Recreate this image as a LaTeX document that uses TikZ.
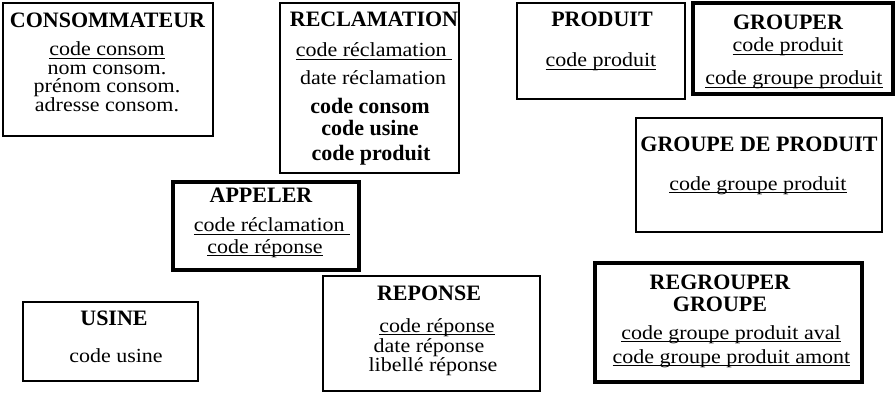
\documentclass[tikz,border=0pt]{standalone}
\usepackage{fontspec}
\setmainfont{Liberation Serif}
\newfontfamily\attfont{Liberation Serif}[FakeStretch=1.1]
\newcommand{\souligne}[1]{\setbox0\hbox{#1}\rlap{\rule[-3pt]{\wd0}{0.9pt}}\box0}

\begin{document}
\begin{tikzpicture}[x=1pt, y=-1pt, every node/.style={inner sep=0pt},
  ent/.style={draw, line width=1.6pt, outer sep=0pt},
  rel/.style={ent, line width=4pt},
  ttl/.style={anchor=base, font=\fontsize{22}{24}\selectfont\bfseries},
  att/.style={anchor=base, font=\attfont\fontsize{20}{22}\selectfont}]
\useasboundingbox (0,0) rectangle (895,393);
% entites et associations
\node[ent, minimum width=210pt, minimum height=133pt] (consommateur) at (108,69.5) {};
\node[ent, minimum width=179pt, minimum height=170pt] (reclamation) at (369.5,88) {};
\node[ent, minimum width=168pt, minimum height=96pt] (produit) at (601,51) {};
\node[rel, minimum width=200pt, minimum height=91pt] (grouper) at (793,48.5) {};
\node[ent, minimum width=246pt, minimum height=114pt] (groupe) at (759,175) {};
\node[rel, minimum width=186pt, minimum height=88pt] (appeler) at (266,226) {};
\node[ent, minimum width=175pt, minimum height=79pt] (usine) at (110.5,341.5) {};
\node[ent, minimum width=217pt, minimum height=115pt] (reponse) at (431.5,333.5) {};
\node[rel, minimum width=267pt, minimum height=119pt] (regrouper) at (728.5,322.5) {};
% textes
\node[ttl] (consommateur-t) at (107.5,28) {CONSOMMATEUR};
\node[att] (consommateur-1) at (107,56) {\souligne{code consom}};
\node[att] (consommateur-2) at (107,74.5) {nom consom.};
\node[att] (consommateur-3) at (107,93) {prénom consom.};
\node[att] (consommateur-4) at (107,111.5) {adresse consom.};
\node[ttl] (reclamation-t) at (374,27) {RECLAMATION};
\node[att] (reclamation-1) at (374,57) {\souligne{code réclamation\ }};
\node[att] (reclamation-2) at (373,85) {date réclamation};
\node[ttl] (reclamation-3) at (370,114) {code consom};
\node[ttl] (reclamation-4) at (370,136) {code usine};
\node[ttl] (reclamation-5) at (371,161) {code produit};
\node[ttl] (produit-t) at (602,27) {PRODUIT};
\node[att] (produit-1) at (601,67) {\souligne{code produit}};
\node[ttl] (grouper-t) at (788,30) {GROUPER};
\node[att] (grouper-1) at (788,52) {\souligne{code produit}};
\node[att] (grouper-2) at (794,85) {\souligne{code groupe produit}};
\node[ttl] (groupe-t) at (759,152) {GROUPE DE PRODUIT};
\node[att] (groupe-1) at (758,190) {\souligne{code groupe produit}};
\node[ttl] (appeler-t) at (261,203) {APPELER};
\node[att] (appeler-1) at (272,232) {\souligne{code réclamation\ }};
\node[att] (appeler-2) at (265,253) {\souligne{code réponse}};
\node[ttl] (usine-t) at (114,325) {USINE};
\node[att] (usine-1) at (116,362) {code usine};
\node[ttl] (reponse-t) at (429,300) {REPONSE};
\node[att] (reponse-1) at (437,332) {\souligne{code réponse}};
\node[att] (reponse-2) at (429,352) {date réponse};
\node[att] (reponse-3) at (433,371) {libellé réponse};
\node[ttl] (regrouper-t) at (720,289) {REGROUPER};
\node[ttl] (regrouper-t2) at (720,311) {GROUPE};
\node[att] (regrouper-1) at (731,339) {\souligne{code groupe produit aval}};
\node[att] (regrouper-2) at (731.5,363) {\souligne{code groupe produit amont}};
\end{tikzpicture}
\end{document}
